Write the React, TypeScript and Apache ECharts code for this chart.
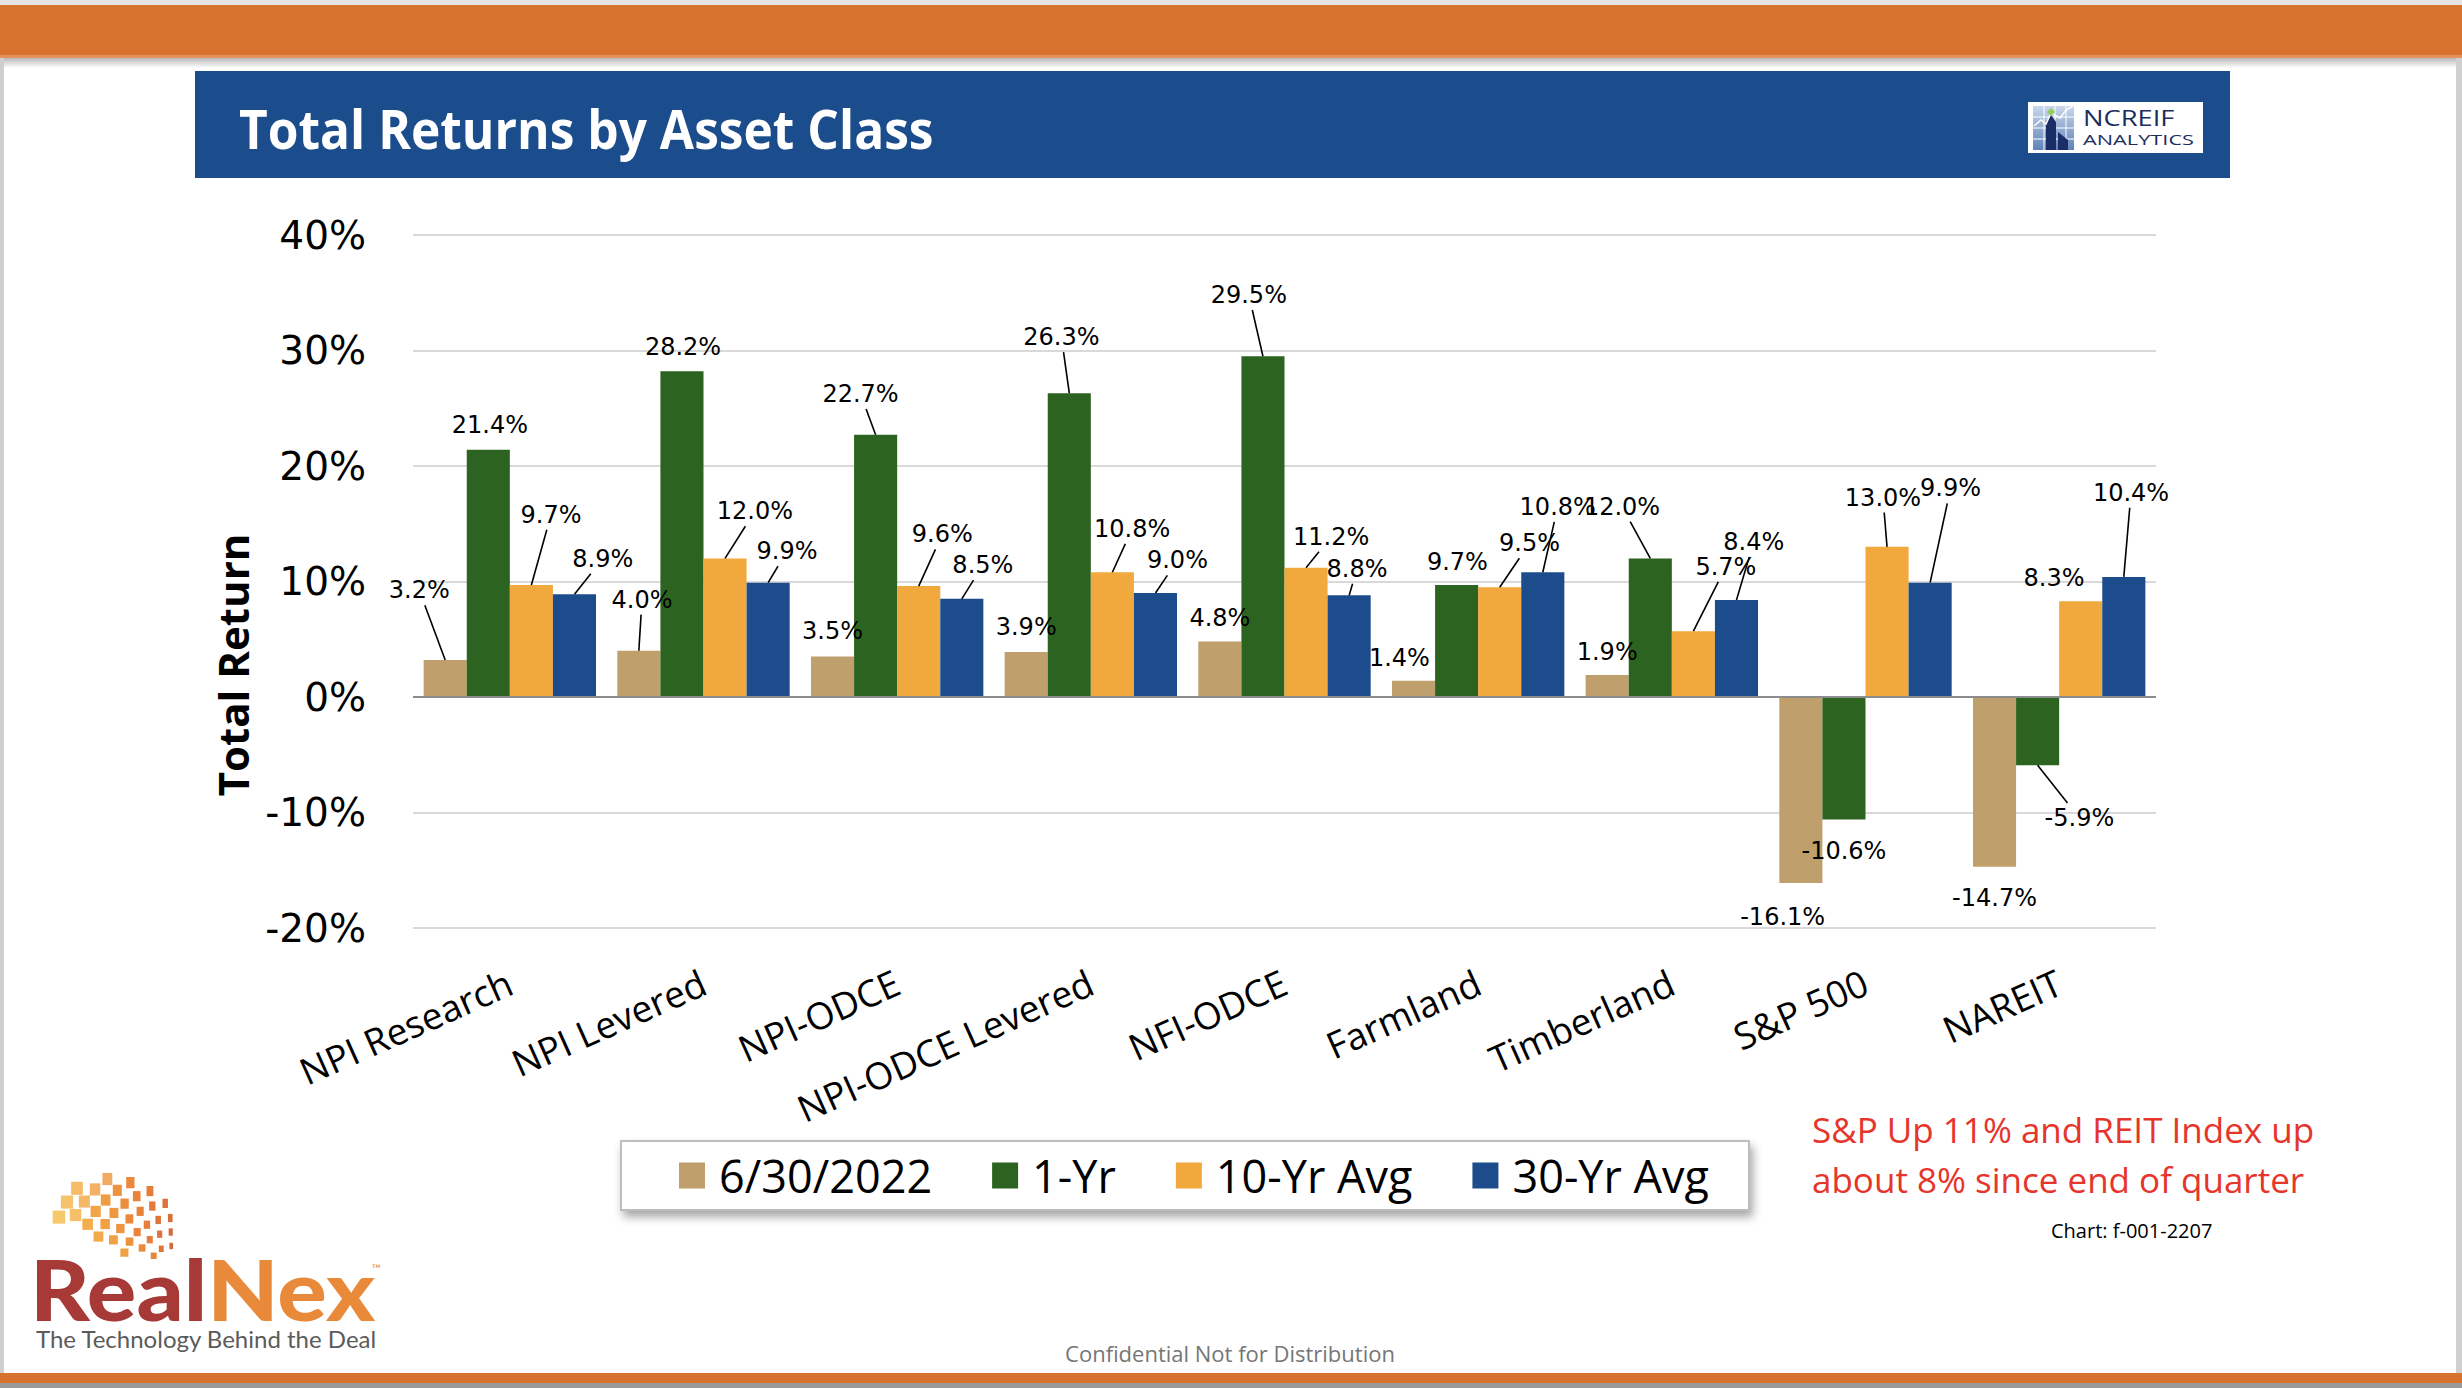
import React, { useEffect, useRef } from "react";
import * as echarts from "echarts";

// ---------- DATA ----------
const categories = [
  "NPI Research",
  "NPI Levered",
  "NPI-ODCE",
  "NPI-ODCE Levered",
  "NFI-ODCE",
  "Farmland",
  "Timberland",
  "S&P 500",
  "NAREIT",
];
const seriesNames = ["6/30/2022", "1-Yr", "10-Yr Avg", "30-Yr Avg"];
const quarterValues = [3.2, 4.0, 3.5, 3.9, 4.8, 1.4, 1.9, -16.1, -14.7];
const oneYearValues = [21.4, 28.2, 22.7, 26.3, 29.5, 9.7, 12.0, -10.6, -5.9];
const tenYearValues = [9.7, 12.0, 9.6, 10.8, 11.2, 9.5, 5.7, 13.0, 8.3];
const thirtyYearValues = [8.9, 9.9, 8.5, 9.0, 8.8, 10.8, 8.4, 9.9, 10.4];
const yMin = -20;
const yMax = 40;
const yInterval = 10;

// ---------- STYLE ----------
const barColors = ["#BF9F6B", "#2D6320", "#F1A83C", "#1C4C8B"];
const S = 2462 / 1568; // reading scale used for label offsets
const BAR_CATEGORY_GAP = 0.11;
const LABEL_FONT_SIZE = 24;

// label offsets [dx, dy, showLeaderLine] relative to bar end centre (in reference units)
const quarterLabelPos = [
  [-16.5, -44.5, 1], [2, -32.6, 1], [0, -16, 0], [0, -16, 0], [0, -14.7, 0],
  [-9, -14.7, 0], [0, -15, 0], [-11.6, 21.7, 0], [0, 20, 0],
];
const oneYearLabelPos = [
  [1, -15.7, 0], [0.7, -15.7, 0], [-9.6, -26, 1], [-5, -35.7, 1], [-9, -39, 1],
  [0.5, -14.7, 0], [-18, -33, 1], [0, 20, 0], [26.6, 33.6, 1],
];
const tenYearLabelPos = [
  [12.5, -44.7, 1], [19, -30, 1], [15, -33, 1], [12.6, -27.6, 1], [16, -19.7, 1],
  [19, -28, 1], [20.7, -41, 1], [-2.6, -31.4, 1], [-17, -15, 0],
];
const thirtyYearLabelPos = [
  [18, -22.6, 1], [12, -20, 1], [13.4, -21.5, 1], [14, -20.8, 1], [5, -17, 1],
  [9.5, -41.6, 1], [11, -37, 1], [13, -60, 1], [4.6, -53.6, 1],
];

const seriesValues = [quarterValues, oneYearValues, tenYearValues, thirtyYearValues];
const labelPositions = [quarterLabelPos, oneYearLabelPos, tenYearLabelPos, thirtyYearLabelPos];

const fmt = (v: number) => v.toFixed(1) + "%";

// approximate DejaVu Sans advance widths (em)
function labelWidth(str: string) {
  let w = 0;
  for (const ch of str) {
    if (ch >= "0" && ch <= "9") w += 0.636;
    else if (ch === ".") w += 0.318;
    else if (ch === "%") w += 0.95;
    else if (ch === "-") w += 0.361;
    else w += 0.6;
  }
  return w * LABEL_FONT_SIZE;
}

// ---------- DECORATION HELPERS ----------
function lerp(a: number[], b: number[], t: number) {
  return a.map((v, i) => Math.round(v + (b[i] - v) * t));
}
function globeSquares() {
  const cx = 172;
  const cy = 1268;
  const rings = [
    { r: 22, a0: 92, a1: 150 },
    { r: 36, a0: 92, a1: 160 },
    { r: 50, a0: 92, a1: 165 },
    { r: 65, a0: 96, a1: 165 },
    { r: 80, a0: 106, a1: 163 },
    { r: 95, a0: 116, a1: 160 },
    { r: 110, a0: 126, a1: 158 },
    { r: 124, a0: 140, a1: 156 },
  ];
  const yellow = [247, 200, 78];
  const orange = [234, 128, 48];
  const dark = [206, 86, 50];
  const out: any[] = [];
  rings.forEach((ring, ri) => {
    const size = 5 + ring.r * 0.065;
    const step = ((size + 4) / ring.r) * (180 / Math.PI);
    for (let a = ring.a0; a <= ring.a1 + 0.01; a += step) {
      const rad = (a * Math.PI) / 180;
      const x = cx + ring.r * Math.cos(rad);
      const y = cy - ring.r * Math.sin(rad);
      const t = Math.min(1, ((a - 92) / 75) * 0.55 + (ring.r / 124) * 0.45);
      const c = t > 0.5 ? lerp(orange, yellow, (t - 0.5) * 2) : lerp(dark, orange, t * 2);
      const w = size * (0.55 + 0.45 * Math.abs(Math.cos(((a - 180) * Math.PI) / 180)));
      out.push({
        type: "rect",
        shape: { x: x - w / 2, y: y - size / 2, width: w, height: size },
        style: { fill: `rgb(${c[0]},${c[1]},${c[2]})`, opacity: ri > 5 ? 0.8 : 0.95 },
        silent: true,
      });
    }
  });
  return out;
}

function buildOption() {
  const barSeries = seriesValues.map((vals, s) => ({
    name: seriesNames[s],
    type: "bar",
    barGap: "0%",
    barCategoryGap: BAR_CATEGORY_GAP * 100 + "%",
    itemStyle: { color: barColors[s] },
    data: vals,
    label: {
      show: true,
      position: "top",
      formatter: (p: any) => fmt(Number(p.value)),
      fontFamily: "DejaVu Sans",
      fontSize: LABEL_FONT_SIZE,
      color: "#000",
    },
    labelLayout: (p: any) => {
      const off = labelPositions[s][p.dataIndex];
      const v = vals[p.dataIndex];
      const cx = p.rect.x + p.rect.width / 2;
      const ey = v >= 0 ? p.rect.y : p.rect.y + p.rect.height;
      return {
        x: cx + off[0] * S,
        y: ey + off[1] * S,
        align: "center",
        verticalAlign: "middle",
      };
    },
    markLine:
      s === 0
        ? {
            silent: true,
            symbol: "none",
            label: { show: false },
            lineStyle: { color: "#8c8c8c", width: 2, type: "solid" },
            data: [{ yAxis: 0 }],
          }
        : undefined,
  }));

  // leader lines: one item per (series, category) that shows a line
  const leaderData: number[][] = [];
  seriesValues.forEach((vals, s) =>
    vals.forEach((v, i) => {
      if (labelPositions[s][i][2] === 1) leaderData.push([i, v, s]);
    })
  );
  const leaderSeries = {
    type: "custom",
    name: "leaders",
    silent: true,
    z: 5,
    data: leaderData,
    renderItem: (params: any, api: any) => {
      const i = api.value(0);
      const v = api.value(1);
      const s = api.value(2);
      const c = api.coord([i, v]);
      const band = api.size([1, 0])[0];
      const barW = (band * (1 - BAR_CATEGORY_GAP)) / 4;
      const cx = c[0] + (s - 1.5) * barW;
      const ey = c[1];
      const off = labelPositions[s][i];
      const lx = cx + off[0] * S;
      const ly = ey + off[1] * S;
      const hw = labelWidth(fmt(v)) / 2 - 2;
      const hh = LABEL_FONT_SIZE * 0.5 + 3;
      const dx = cx - lx;
      const dy = ey - ly;
      const t = Math.min(
        Math.abs(dx) > 0.001 ? hw / Math.abs(dx) : 1e9,
        Math.abs(dy) > 0.001 ? hh / Math.abs(dy) : 1e9
      );
      return {
        type: "line",
        shape: { x1: lx + dx * t, y1: ly + dy * t, x2: cx, y2: ey },
        style: { stroke: "#000000", lineWidth: 1.6 },
      };
    },
  };

  const graphic: any[] = [
    // slide frame
    { type: "rect", shape: { x: 0, y: 0, width: 2462, height: 5 }, style: { fill: "#e4e4e4" }, silent: true },
    { type: "rect", shape: { x: 0, y: 5, width: 2462, height: 53 }, style: { fill: "#D7722F" }, silent: true },
    { type: "rect", shape: { x: 0, y: 55, width: 2462, height: 3 }, style: { fill: "#E8925A" }, silent: true },
    {
      type: "rect",
      shape: { x: 0, y: 58, width: 2462, height: 10 },
      style: {
        fill: new echarts.graphic.LinearGradient(0, 0, 0, 1, [
          { offset: 0, color: "rgba(0,0,0,0.28)" },
          { offset: 1, color: "rgba(0,0,0,0)" },
        ]),
      },
      silent: true,
    },
    { type: "rect", shape: { x: 0, y: 58, width: 4, height: 1315 }, style: { fill: "#cfcfcf" }, silent: true },
    { type: "rect", shape: { x: 2456, y: 58, width: 6, height: 1315 }, style: { fill: "#cfcfcf" }, silent: true },
    { type: "rect", shape: { x: 0, y: 1373, width: 2462, height: 10 }, style: { fill: "#D7722F" }, silent: true },
    { type: "rect", shape: { x: 0, y: 1383, width: 2462, height: 5 }, style: { fill: "#9a9a9a" }, silent: true },
    // title bar
    { type: "rect", shape: { x: 195, y: 71, width: 2035, height: 107 }, style: { fill: "#1B4C8C" }, silent: true },
    {
      type: "text",
      x: 239,
      y: 128,
      scaleX: 0.92,
      style: {
        text: "Total Returns by Asset Class",
        fill: "#ffffff",
        font: 'bold 54px "Open Sans"',
        align: "left",
        verticalAlign: "middle",
      },
      silent: true,
    },
    // NCREIF logo
    { type: "rect", shape: { x: 2028, y: 102, width: 175, height: 51 }, style: { fill: "#ffffff" }, silent: true },
    {
      type: "rect",
      shape: { x: 2033, y: 106, width: 41, height: 44 },
      style: {
        fill: new echarts.graphic.LinearGradient(0, 0, 0, 1, [
          { offset: 0, color: "#c9d7ec" },
          { offset: 1, color: "#5f82b8" },
        ]),
      },
      silent: true,
    },
    { type: "line", shape: { x1: 2033, y1: 117, x2: 2074, y2: 117 }, style: { stroke: "#ffffff", lineWidth: 1 }, silent: true },
    { type: "line", shape: { x1: 2033, y1: 128, x2: 2074, y2: 128 }, style: { stroke: "#ffffff", lineWidth: 1 }, silent: true },
    { type: "line", shape: { x1: 2033, y1: 139, x2: 2074, y2: 139 }, style: { stroke: "#ffffff", lineWidth: 1 }, silent: true },
    { type: "line", shape: { x1: 2044, y1: 106, x2: 2044, y2: 150 }, style: { stroke: "#ffffff", lineWidth: 1 }, silent: true },
    { type: "line", shape: { x1: 2055, y1: 106, x2: 2055, y2: 150 }, style: { stroke: "#ffffff", lineWidth: 1 }, silent: true },
    { type: "line", shape: { x1: 2066, y1: 106, x2: 2066, y2: 150 }, style: { stroke: "#ffffff", lineWidth: 1 }, silent: true },
    {
      type: "polygon",
      shape: { points: [[2046, 150], [2046, 122], [2051, 115], [2056, 122], [2056, 150]] },
      style: { fill: "#1b2d66" },
      silent: true,
    },
    {
      type: "polygon",
      shape: { points: [[2058, 150], [2058, 132], [2068, 140], [2068, 150]] },
      style: { fill: "#1b2d66" },
      silent: true,
    },
    {
      type: "polyline",
      shape: { points: [[2034, 126], [2041, 120], [2046, 124], [2051, 113], [2060, 118], [2066, 110], [2073, 106]] },
      style: { stroke: "#ffffff", lineWidth: 1.5, fill: null },
      silent: true,
    },
    {
      type: "polygon",
      shape: { points: [[2051, 108], [2055, 112], [2051, 116], [2047, 112]] },
      style: { fill: "#8fcf5a" },
      silent: true,
    },
    {
      type: "text",
      x: 2083,
      y: 118,
      scaleX: 1.3,
      style: { text: "NCREIF", fill: "#1c2d5e", font: '21px "Open Sans"', align: "left", verticalAlign: "middle" },
      silent: true,
    },
    {
      type: "text",
      x: 2083,
      y: 139,
      scaleX: 1.45,
      style: { text: "ANALYTICS", fill: "#1c2d5e", font: '15px "Open Sans"', align: "left", verticalAlign: "middle" },
      silent: true,
    },
    // y axis title
    {
      type: "text",
      x: 232,
      y: 665,
      rotation: Math.PI / 2,
      style: {
        text: "Total Return",
        fill: "#000000",
        font: 'bold 42px "Open Sans"',
        align: "center",
        verticalAlign: "middle",
      },
      silent: true,
    },
    // annotation
    {
      type: "text",
      x: 1812,
      y: 1129,
      style: {
        text: "S&P Up 11% and REIT Index up",
        fill: "#E6352B",
        font: '35px "Open Sans"',
        align: "left",
        verticalAlign: "middle",
      },
      silent: true,
    },
    {
      type: "text",
      x: 1812,
      y: 1179,
      style: {
        text: "about 8% since end of quarter",
        fill: "#E6352B",
        font: '35px "Open Sans"',
        align: "left",
        verticalAlign: "middle",
      },
      silent: true,
    },
    {
      type: "text",
      x: 2051,
      y: 1230,
      style: { text: "Chart: f-001-2207", fill: "#000000", font: '20px "Open Sans"', align: "left", verticalAlign: "middle" },
      silent: true,
    },
    {
      type: "text",
      x: 1230,
      y: 1353,
      style: {
        text: "Confidential Not for Distribution",
        fill: "#767676",
        font: '22px "Open Sans"',
        align: "center",
        verticalAlign: "middle",
      },
      silent: true,
    },
    // RealNex logo
    ...globeSquares(),
    {
      type: "text",
      x: 30,
      y: 1289,
      scaleX: 1.1,
      style: {
        text: "{a|Real}{b|Nex}",
        font: '900 84px "Lato"',
        align: "left",
        verticalAlign: "middle",
        rich: {
          a: { fill: "#A73A37", font: '900 84px "Lato"' },
          b: { fill: "#E98A3B", font: '900 84px "Lato"' },
        },
      },
      silent: true,
    },
    {
      type: "text",
      x: 372,
      y: 1268,
      style: { text: "™", fill: "#E98A3B", font: '12px "Lato"', align: "left", verticalAlign: "middle" },
      silent: true,
    },
    {
      type: "text",
      x: 36,
      y: 1338,
      style: {
        text: "The Technology Behind the Deal",
        fill: "#5b5b5b",
        font: '24px "Lato"',
        align: "left",
        verticalAlign: "middle",
      },
      silent: true,
    },
  ];

  return {
    animation: false,
    backgroundColor: "#ffffff",
    grid: { left: 413, right: 306, top: 235, bottom: 460, containLabel: false },
    legend: {
      data: seriesNames,
      left: 621,
      top: 1141,
      orient: "horizontal",
      icon: "rect",
      itemWidth: 26,
      itemHeight: 26,
      itemGap: 60,
      padding: [12, 40, 12, 58],
      backgroundColor: "#ffffff",
      borderColor: "#bdbdbd",
      borderWidth: 2,
      shadowBlur: 10,
      shadowColor: "rgba(0,0,0,0.35)",
      shadowOffsetX: 3,
      shadowOffsetY: 6,
      textStyle: { fontFamily: "Open Sans", fontSize: 45, color: "#000", padding: [0, 0, 0, 9] },
    },
    xAxis: {
      type: "category",
      data: categories,
      axisLine: { show: false, onZero: false },
      axisTick: { show: false },
      splitLine: { show: false },
      axisLabel: {
        interval: 0,
        rotate: 24,
        margin: 52,
        fontFamily: "Open Sans",
        fontSize: 37,
        color: "#000",
      },
    },
    yAxis: {
      type: "value",
      min: yMin,
      max: yMax,
      interval: yInterval,
      axisLine: { show: false },
      axisTick: { show: false },
      splitLine: { lineStyle: { color: "#d9d9d9", width: 2 } },
      axisLabel: {
        formatter: "{value}%",
        fontFamily: "DejaVu Sans",
        fontSize: 39,
        color: "#000",
        margin: 47,
      },
    },
    graphic,
    series: [...barSeries, leaderSeries],
  };
}

export default function App() {
  const ref = useRef<HTMLDivElement>(null);
  useEffect(() => {
    if (!ref.current) return;
    const chart = echarts.init(ref.current, null, { renderer: "svg", width: 2462, height: 1388 });
    chart.setOption(buildOption() as any);
    return () => chart.dispose();
  }, []);
  return (
    <div
      ref={ref}
      style={{ position: "fixed", left: 0, top: 0, width: 2462, height: 1388, background: "#ffffff" }}
    />
  );
}
